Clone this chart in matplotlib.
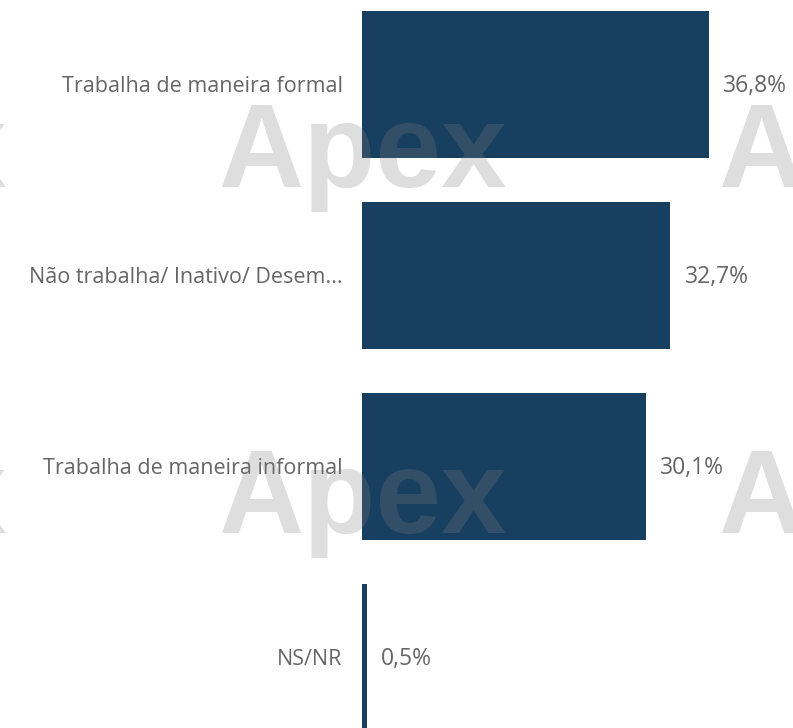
import matplotlib
matplotlib.use("Agg")
import matplotlib.pyplot as plt

categories = [
    "Trabalha de maneira formal",
    "Não trabalha/ Inativo/ Desem...",
    "Trabalha de maneira informal",
    "NS/NR",
]
values = [36.8, 32.7, 30.1, 0.5]
value_labels = ["36,8%", "32,7%", "30,1%", "0,5%"]

W, H = 793, 728
fig = plt.figure(figsize=(W / 100, H / 100), dpi=100)
fig.patch.set_facecolor("white")

# axes: bars start at x=362 px, 9.42 px per percentage point
ax = fig.add_axes([362 / W, 0, (W - 362) / W, 1])
ax.set_xlim(0, (W - 362) / 9.42)
ax.set_ylim((H - 84.5) / 191, -84.5 / 191)

pos = list(range(len(categories)))
ax.barh(pos, values, height=147 / 191, color="#173F5F", zorder=2)

ax.set_yticks([])
ax.set_xticks([])
for s in ax.spines.values():
    s.set_visible(False)
ax.patch.set_alpha(0)

# category labels, right aligned left of the bars
for p, cat in zip(pos, categories):
    ax.annotate(cat, xy=(0, p), xytext=(-14, -1.5), textcoords="offset points",
                ha="right", va="center", fontsize=15.5, color="#666666",
                family="Open Sans", annotation_clip=False)

for p, v, lab in zip(pos, values, value_labels):
    ax.annotate(lab, xy=(v, p), xytext=(10.5, -1), textcoords="offset points",
                ha="left", va="center", fontsize=16.5, color="#666666",
                family="Open Sans", zorder=3)

# tiled watermark on top
for base in (187, 533):
    for x0 in (-282, 218, 718):
        fig.text(x0 / W, 1 - base / H, "Apex", fontsize=85, fontweight="bold",
                 family="Liberation Sans", color="#808080", alpha=0.26,
                 ha="left", va="baseline", zorder=10)

fig.savefig("out.png", dpi=100)
